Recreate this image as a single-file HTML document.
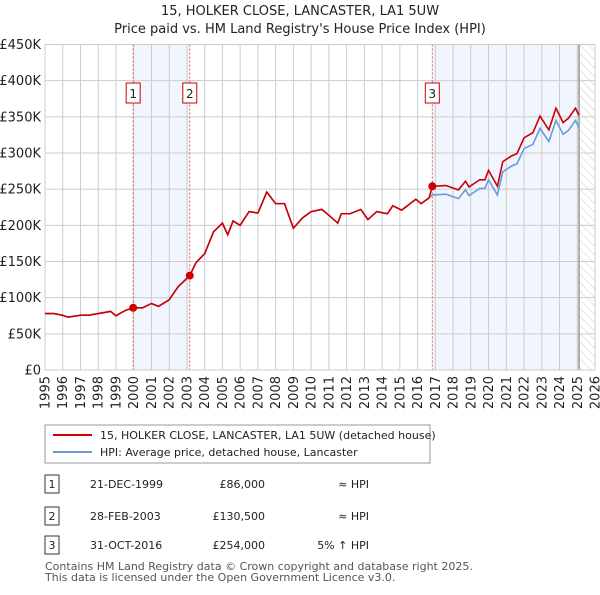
<!DOCTYPE html>
<html><head><meta charset="utf-8"><style>
body{margin:0;background:#fff;font-family:"Liberation Sans","DejaVu Sans",sans-serif;}
svg text{font-family:"DejaVu Sans","Liberation Sans",sans-serif;}
</style></head><body>
<svg id="c" width="600" height="590" xmlns="http://www.w3.org/2000/svg">
<defs><pattern id="hatch" width="6" height="6" patternUnits="userSpaceOnUse" patternTransform="rotate(-45)"><line x1="0" y1="0" x2="0" y2="6" stroke="#ccc" stroke-width="1"/></pattern></defs>
<text x="300" y="15" text-anchor="middle" font-size="13" fill="#222">15, HOLKER CLOSE, LANCASTER, LA1 5UW</text>
<text x="300" y="33" text-anchor="middle" font-size="13" fill="#222">Price paid vs. HM Land Registry's House Price Index (HPI)</text>
<g id="plot"></g>
<g>
<rect x="45" y="425" width="385" height="38" fill="#fff" stroke="#999"/>
<line x1="53" y1="435" x2="92" y2="435" stroke="#cc0000" stroke-width="2"/>
<text x="100" y="439" font-size="11" fill="#222">15, HOLKER CLOSE, LANCASTER, LA1 5UW (detached house)</text>
<line x1="53" y1="452" x2="92" y2="452" stroke="#6a9bd8" stroke-width="2"/>
<text x="100" y="456" font-size="11" fill="#222">HPI: Average price, detached house, Lancaster</text>
</g>
<g id="tbl" font-size="11" fill="#222"></g>
<text x="45" y="570" font-size="11" fill="#555">Contains HM Land Registry data © Crown copyright and database right 2025.</text>
<text x="45" y="581" font-size="11" fill="#555">This data is licensed under the Open Government Licence v3.0.</text>
</svg>
<script>
const yTicks=[0,50000,100000,150000,200000,250000,300000,350000,400000,450000];
const yTickLabels=["£0","£50K","£100K","£150K","£200K","£250K","£300K","£350K","£400K","£450K"];
const xYears=[1995,1996,1997,1998,1999,2000,2001,2002,2003,2004,2005,2006,2007,2008,2009,2010,2011,2012,2013,2014,2015,2016,2017,2018,2019,2020,2021,2022,2023,2024,2025,2026];
const hpiDates=[1995,1995.5,1996,1996.3,1997,1997.5,1998,1998.7,1999,1999.5,1999.97,2000.5,2001,2001.4,2002,2002.5,2003.16,2003.5,2004,2004.5,2005,2005.3,2005.6,2006,2006.5,2007,2007.5,2008,2008.5,2009,2009.5,2010,2010.6,2011,2011.5,2011.7,2012.2,2012.8,2013.2,2013.7,2014.3,2014.6,2015.1,2015.9,2016.2,2016.65,2016.83,2017.6,2018.3,2018.7,2018.9,2019.5,2019.8,2020.0,2020.5,2020.8,2021.3,2021.6,2022.0,2022.5,2022.9,2023.4,2023.8,2024.2,2024.5,2024.9,2025.1];
const hpiValues=[78,78,75.6,73,75.8,76,78,81,75,82,86,86,92,88,97,115,130.5,148,161,191,203,187,206,200,219,217,246,230,230,196,210,219,222,214,203,216,216,222,208,219,216,227,221,236,230,238,242,243,237,249,241,251,251,263,242,274,282,285,306,312,334,316,345,326,331,345,335];
const priceDates=[1995,1995.5,1996,1996.3,1997,1997.5,1998,1998.7,1999,1999.5,1999.97,2000.5,2001,2001.4,2002,2002.5,2003.16,2003.5,2004,2004.5,2005,2005.3,2005.6,2006,2006.5,2007,2007.5,2008,2008.5,2009,2009.5,2010,2010.6,2011,2011.5,2011.7,2012.2,2012.8,2013.2,2013.7,2014.3,2014.6,2015.1,2015.9,2016.2,2016.65,2016.83,2017.6,2018.3,2018.7,2018.9,2019.5,2019.8,2020.0,2020.5,2020.8,2021.3,2021.6,2022.0,2022.5,2022.9,2023.4,2023.8,2024.2,2024.5,2024.9,2025.1];
const priceValues=[78,78,75.6,73,75.8,76,78,81,75,82,86,86,92,88,97,115,130.5,148,161,191,203,187,206,200,219,217,246,230,230,196,210,219,222,214,203,216,216,222,208,219,216,227,221,236,230,238,254,255,249,261,253,263,263,276,254,288,296,299,321,328,351,332,362,342,348,362,352];
const saleIds=["1","2","3"];
const saleDates=[1999.97,2003.16,2016.83];
const saleValues=[86000,130500,254000];
const saleDateLabels=["21-DEC-1999","28-FEB-2003","31-OCT-2016"];
const salePriceLabels=["£86,000","£130,500","£254,000"];
const saleHpiLabels=["≈ HPI","≈ HPI","5% ↑ HPI"];

const NS="http://www.w3.org/2000/svg";
const X0=45,X1=595,Y0=370,Y1=44.5;
const xs=y=>X0+(y-1995)/(2026-1995)*(X1-X0);
const ys=v=>Y0-v/450000*(Y0-Y1);
const plot=document.getElementById('plot');
function mk(tag,at,parent){const e=document.createElementNS(NS,tag);for(const k in at)e.setAttribute(k,at[k]);(parent||plot).appendChild(e);return e;}
let s1=mk('rect',{x:xs(saleDates[0]),y:Y1,width:xs(saleDates[1])-xs(saleDates[0]),height:Y0-Y1,fill:'#eef3fc',opacity:0.8});


let s2=mk('rect',{x:xs(saleDates[2]),y:Y1,width:xs(2025.1)-xs(saleDates[2]),height:Y0-Y1,fill:'#eef3fc',opacity:0.8});


let h=mk('rect',{x:xs(2025.1),y:Y1,width:X1-xs(2025.1),height:Y0-Y1,fill:'url(#hatch)'});


yTicks.forEach((v,i)=>{
 let l=mk('line',{x1:X0,x2:X1,y1:ys(v),y2:ys(v),stroke:'#ccc','stroke-width':1});
 
 
 let t=mk('text',{x:X0-4,y:ys(v)+4.5,'text-anchor':'end','font-size':13,fill:'#222'});
 t.textContent=yTickLabels[i];
 
 
});
xYears.forEach(yr=>{
 let l=mk('line',{x1:xs(yr),x2:xs(yr),y1:Y1,y2:Y0,stroke:'#ccc','stroke-width':1});
 
 
 const tx=xs(yr)+4.5,ty=376;
 let t=mk('text',{x:tx,y:ty,'text-anchor':'end','font-size':13,fill:'#222',transform:`rotate(-90 ${tx} ${ty})`});
 t.textContent=yr;
 
 
});
let ed=mk('line',{x1:xs(2025.1),x2:xs(2025.1),y1:Y1,y2:Y0,stroke:'#999','stroke-width':1.5});


saleDates.forEach((d,i)=>{
 let l=mk('line',{x1:xs(d),x2:xs(d),y1:Y1,y2:Y0,stroke:'#ee5555','stroke-width':1,'stroke-dasharray':'2,2'});
 
 
 let r=mk('rect',{x:xs(d)-7,y:83,width:14,height:20,fill:'#fff',stroke:'#cc0000'});
 
 
 let t=mk('text',{x:xs(d),y:98,'text-anchor':'middle','font-size':12,fill:'#222'});
 t.textContent=saleIds[i];
 
 
});
let pb=mk('rect',{x:X0,y:Y1,width:X1-X0,height:Y0-Y1,fill:'none',stroke:'#ccc'});


let hp=mk('polyline',{points:hpiDates.map((d,i)=>xs(d)+','+ys(hpiValues[i]*1000)).join(' '),fill:'none',stroke:'#6a9bd8','stroke-width':1.6});


let pp=mk('polyline',{points:priceDates.map((d,i)=>xs(d)+','+ys(priceValues[i]*1000)).join(' '),fill:'none',stroke:'#cc0000','stroke-width':1.6});


saleDates.forEach((d,i)=>{
 let c=mk('circle',{cx:xs(d),cy:ys(saleValues[i]),r:4,fill:'#cc0000'});
 
 
});
const tbl=document.getElementById('tbl');
const rowY=[487,519,548];
saleIds.forEach((id,i)=>{
 let y=rowY[i];
 let b=mk('rect',{x:45,y:y-12,width:14,height:18,fill:'#fff',stroke:'#333'},tbl);
 
 
 let t0=mk('text',{x:52,y:y+1,'text-anchor':'middle'},tbl);t0.textContent=id;
 
 
 let t1=mk('text',{x:90,y:y+1},tbl);t1.textContent=saleDateLabels[i];
 
 
 let t2=mk('text',{x:265,y:y+1,'text-anchor':'end'},tbl);t2.textContent=salePriceLabels[i];
 
 
 let t3=mk('text',{x:369,y:y+1,'text-anchor':'end'},tbl);t3.textContent=saleHpiLabels[i];
 
 
});
</script>
</body></html>
